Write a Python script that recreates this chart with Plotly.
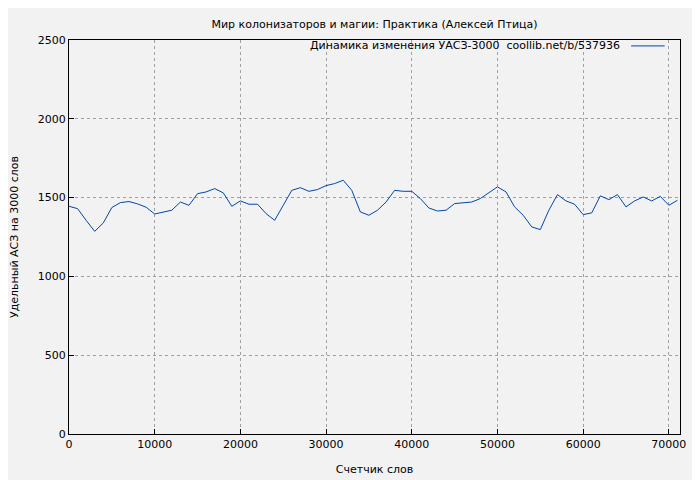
import plotly.graph_objects as go

words = list(range(0, 72000, 1000))
values = [1445,1430,1356,1286,1339,1437,1468,1475,1460,1439,1396,1409,1420,1472,1451,1525,1536,1557,1530,1445,
          1479,1458,1458,1398,1356,1451,1546,1563,1540,1551,1576,1589,1610,1546,1409,1388,1420,1472,1546,1540,
          1540,1494,1434,1415,1420,1462,1468,1472,1494,1532,1568,1536,1441,1388,1314,1297,1420,1519,1479,1458,
          1392,1403,1511,1487,1519,1441,1479,1504,1479,1508,1451,1483]
x_ticks = list(range(0, 80000, 10000))
y_ticks = list(range(0, 3000, 500))
legend_text = "Динамика изменения УАСЗ-3000  coollib.net/b/537936"

fig = go.Figure(go.Scatter(x=words, y=values, mode="lines", line=dict(color="#0047ab", width=1), showlegend=False))
fig.update_layout(
    width=700, height=480, paper_bgcolor="#f2f2f2", plot_bgcolor="#f2f2f2",
    font=dict(family="DejaVu Sans", size=11, color="#000"),
    margin=dict(l=61, r=28, t=32, b=54),
    title=dict(text="Мир колонизаторов и магии: Практика (Алексей Птица)", x=0.5, xref="paper", y=0.975, xanchor="center", font=dict(size=11)),
    annotations=[dict(text=legend_text, xref="paper", yref="paper", x=0.905, y=0.985, xanchor="right", yanchor="middle",
                      showarrow=False, font=dict(size=11))],
    shapes=[dict(type="line", xref="paper", yref="paper", x0=0.92, x1=0.975, y0=0.985, y1=0.985,
                 line=dict(color="#0047ab", width=1))],
)
ax = dict(showline=True, linecolor="#000", mirror=True, ticks="inside", ticklen=5, tickcolor="#000",
          gridcolor="#a0a0a0", griddash="dot", zeroline=False, tickfont=dict(size=11), automargin=False)
fig.update_xaxes(range=[0, 71300], tickvals=x_ticks, ticktext=[str(v) for v in x_ticks],
                 title=dict(text="Счетчик слов", standoff=15, font=dict(size=11)), **ax)
fig.update_yaxes(range=[0, 2500], tickvals=y_ticks, ticktext=[str(v) for v in y_ticks],
                 title=dict(text="Удельный АСЗ на 3000 слов", standoff=21, font=dict(size=11)), **ax)
fig.write_html("out.html")
